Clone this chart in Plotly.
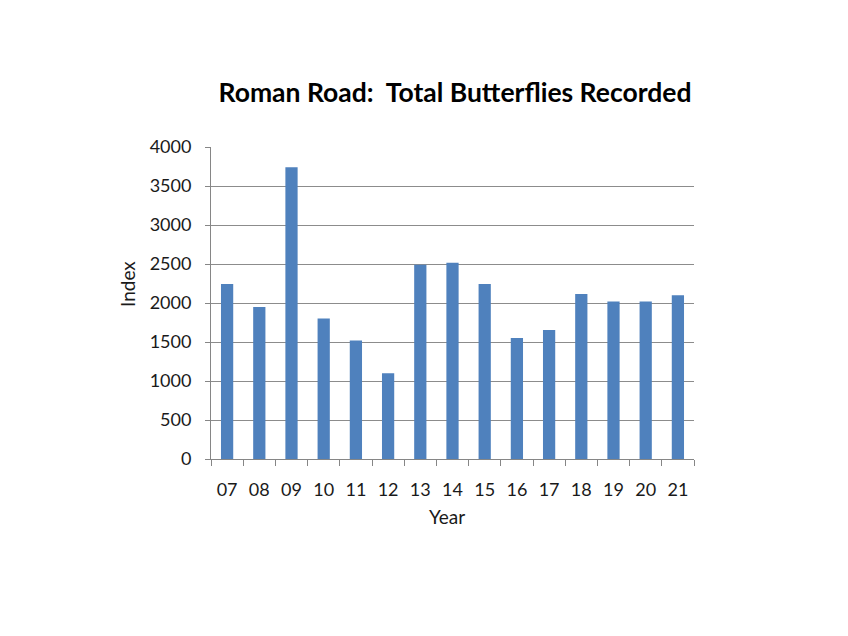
import plotly.graph_objects as go

years = ["07", "08", "09", "10", "11", "12", "13", "14", "15", "16", "17", "18", "19", "20", "21"]
totals = [2245, 1950, 3740, 1800, 1520, 1100, 2490, 2515, 2245, 1550, 1655, 2115, 2020, 2020, 2100]

FONT = "Lato"
TXT = "#1a1a1a"
W, H = 848, 636
# plot area (figure coords; the page adds an 8px body margin)
L, R, T, B = 203, 686, 139, 451

fig = go.Figure(go.Bar(x=years, y=totals, marker_color="#4F81BD", marker_line_width=0))

fig.update_layout(
    width=W, height=H,
    margin=dict(l=L, r=W - R, t=T, b=H - B),
    plot_bgcolor="white", paper_bgcolor="white",
    bargap=0.62,
    showlegend=False,
    title=dict(text="<b>Roman Road:  Total Butterflies Recorded</b>",
               x=447 / W, xanchor="center",
               y=1 - 85 / H, yanchor="middle", yref="container",
               font=dict(family=FONT, size=26.5, color="black")),
    font=dict(family=FONT, size=18, color=TXT),
    annotations=[
        dict(text="Year", xref="paper", yref="paper",
             x=(439 - L) / (R - L), y=-(508 - B) / (B - T),
             xanchor="center", yanchor="middle", showarrow=False,
             font=dict(family=FONT, size=19, color=TXT)),
        dict(text="Index", xref="paper", yref="paper", textangle=-90,
             x=-(L - 119) / (R - L), y=(B - 276) / (B - T),
             xanchor="center", yanchor="middle", showarrow=False,
             font=dict(family=FONT, size=19, color=TXT)),
    ],
)
fig.update_xaxes(
    showline=True, linecolor="#868686", linewidth=1,
    ticks="outside", tickson="boundaries", ticklen=6, tickcolor="#868686",
    tickfont=dict(size=18, color=TXT), ticklabelstandoff=14,
)
fig.update_yaxes(
    range=[0, 4000], dtick=500,
    showgrid=True, gridcolor="#8c8c8c", gridwidth=1,
    showline=True, linecolor="#868686", linewidth=1,
    ticks="outside", ticklen=5, tickcolor="#868686",
    tickfont=dict(size=18, color=TXT), ticklabelstandoff=10,
    zeroline=False,
)
fig.write_html("out.html")
